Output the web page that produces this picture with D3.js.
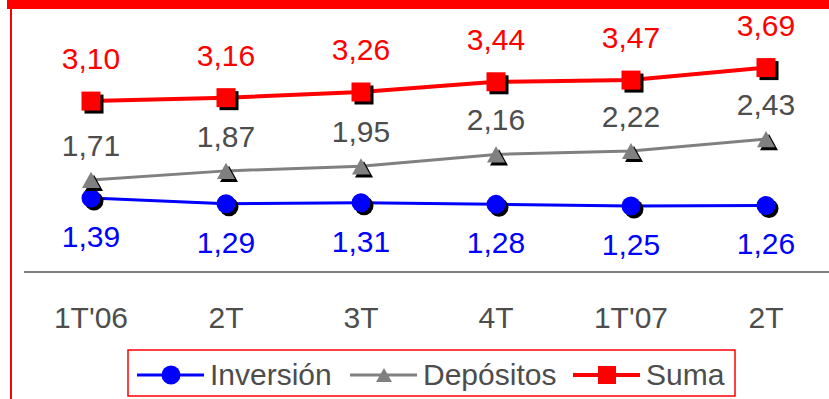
<!DOCTYPE html>
<html>
<head>
<meta charset="utf-8">
<script src="https://cdn.jsdelivr.net/npm/d3@7"></script>
<style>
  html, body { margin: 0; padding: 0; background: #fff; }
  svg { display: block; }
  svg text { font-family: "Liberation Sans", Arial, Helvetica, sans-serif; }
</style>
</head>
<body>
<svg id="chart" width="829" height="399"></svg>
<script>
// Quarterly figures
const categories = ["1T'06", "2T", "3T", "4T", "1T'07", "2T"];
const inversion = [1.39, 1.29, 1.31, 1.28, 1.25, 1.26];
const depositos = [1.71, 1.87, 1.95, 2.16, 2.22, 2.43];
const suma = [3.10, 3.16, 3.26, 3.44, 3.47, 3.69];
const seriesNames = ["Inversión", "Depósitos", "Suma"];

const W = 829, H = 399;
const svg = d3.select("#chart");

// frame: red header strip and left rule
svg.append("rect").attr("x", 7).attr("y", 0).attr("width", W - 7).attr("height", 9).attr("fill", "#ff0000");
svg.append("rect").attr("x", 10).attr("y", 0).attr("width", 2).attr("height", H).attr("fill", "#ff0000");

const idx = d3.range(categories.length);
const x = d3.scalePoint().domain(idx).range([91, 766]);
const y = d3.scaleLinear().domain([0, 4]).range([277, 50]);

// category axis
svg.append("line")
  .attr("x1", 24).attr("x2", W)
  .attr("y1", y(0) - 5).attr("y2", y(0) - 5)
  .attr("stroke", "#7f7f7f").attr("stroke-width", 2);

svg.append("g").selectAll("text").data(idx).join("text")
  .attr("x", i => x(i)).attr("y", 328)
  .attr("text-anchor", "middle")
  .attr("font-size", 30).attr("fill", "#4d4d4d")
  .text(i => categories[i]);

const fmt = v => d3.format(".2f")(v).replace(".", ",");

const series = [
  { name: seriesNames[0], values: inversion, color: "#0000ff", width: 3, marker: "circle", label: "#0000ff", dy: 49 },
  { name: seriesNames[1], values: depositos, color: "#808080", width: 3, marker: "triangle", label: "#4d4d4d", dy: -24 },
  { name: seriesNames[2], values: suma, color: "#ff0000", width: 4, marker: "square", label: "#ff0000", dy: -32 }
];

function drawMarker(g, type, cx, cy, fill, size) {
  const sh = 3;
  const shapes = [[sh, "#000"], [0, fill]];
  shapes.forEach(([o, c]) => {
    if (type === "circle") {
      g.append("circle").attr("cx", cx + o).attr("cy", cy + o).attr("r", size / 2).attr("fill", c);
    } else if (type === "square") {
      g.append("rect").attr("x", cx - size / 2 + o).attr("y", cy - size / 2 + o)
        .attr("width", size).attr("height", size).attr("fill", c);
    } else {
      const h = size * 0.9;
      g.append("path")
        .attr("d", `M${cx + o},${cy - h / 2 + o}L${cx + size / 2 + o},${cy + h / 2 + o}L${cx - size / 2 + o},${cy + h / 2 + o}Z`)
        .attr("fill", c);
    }
  });
}

const line = d3.line().x((d, i) => x(i)).y(d => y(d));

series.forEach(s => {
  const g = svg.append("g");
  g.append("path").attr("d", line(s.values))
    .attr("fill", "none").attr("stroke", s.color).attr("stroke-width", s.width);
  s.values.forEach((v, i) => {
    drawMarker(g, s.marker, x(i), y(v), s.color, s.marker === "triangle" ? 18 : 19);
  });
  g.selectAll("text.lbl").data(s.values).join("text")
    .attr("class", "lbl")
    .attr("x", (d, i) => x(i)).attr("y", d => y(d) + s.dy)
    .attr("text-anchor", "middle")
    .attr("font-size", 30).attr("fill", s.label)
    .text(fmt);
});

// legend
const lg = svg.append("g");
lg.append("rect").attr("x", 128).attr("y", 350).attr("width", 607).attr("height", 46)
  .attr("fill", "#fff").attr("stroke", "#ff0000").attr("stroke-width", 1.5);
const legendX = [137, 350, 573];
series.forEach((s, k) => {
  const x0 = legendX[k], cy = 375;
  lg.append("line").attr("x1", x0).attr("x2", x0 + 67).attr("y1", cy).attr("y2", cy)
    .attr("stroke", s.color).attr("stroke-width", s.width);
  const m = lg.append("g");
  const cx = x0 + 34;
  if (s.marker === "circle") m.append("circle").attr("cx", cx).attr("cy", cy).attr("r", 9.5).attr("fill", s.color);
  else if (s.marker === "square") m.append("rect").attr("x", cx - 9).attr("y", cy - 9).attr("width", 18).attr("height", 18).attr("fill", s.color);
  else m.append("path").attr("d", `M${cx},${cy - 7}L${cx + 8},${cy + 7}L${cx - 8},${cy + 7}Z`).attr("fill", s.color);
  lg.append("text").attr("x", x0 + 73).attr("y", cy + 10)
    .attr("font-size", 30).attr("fill", "#4d4d4d").text(s.name);
});
</script>
</body>
</html>
